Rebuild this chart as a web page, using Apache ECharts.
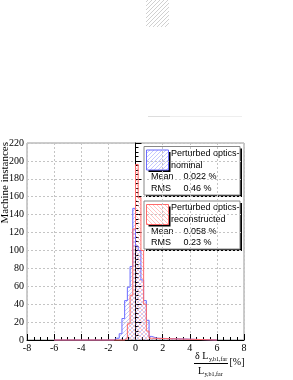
<!DOCTYPE html>
<html><head><meta charset="utf-8">
<script src="https://cdn.jsdelivr.net/npm/echarts@6/dist/echarts.min.js"></script>
<style>html,body{margin:0;padding:0;background:#fff}#c{width:293px;height:380px}</style>
</head><body><div id="c"></div>
<script>
// ---- data ----
const binWidth = 0.2;
const histRange = [-6, 6];
const blueStart = -1.6;
const blueCounts = [2, 2, 7, 24, 44, 59, 82, 147, 105, 100, 67, 44, 22, 4, 3, 2];
const redStart = -0.8;
const redCounts = [2, 18, 50, 124, 196, 159, 100, 40, 10, 2];
const xMin = -8, xMax = 8, xStep = 2;
const yMin = 0, yMax = 220, yStep = 20;
const yTitle = 'Machine instances';
const legend1 = ['Perturbed optics-', 'nominal', 'Mean', '0.022 %', 'RMS', '0.46 %'];
const legend2 = ['Perturbed optics-', 'reconstructed', 'Mean', '0.058 %', 'RMS', '0.23 %'];
const blueLine = '#6b6bff', redLine = '#ff6b6b';

function histPoints(start, counts) {
  const pts = [[histRange[0], 0]];
  counts.forEach((c, i) => pts.push([+(start + i * binWidth).toFixed(4), c]));
  pts.push([+(start + counts.length * binWidth).toFixed(4), 0]);
  pts.push([histRange[1], 0]);
  return pts;
}
function hatch(color, dir, size) {
  const s = size || 4;
  const c = document.createElement('canvas');
  c.width = s; c.height = s;
  const g = c.getContext('2d');
  g.fillStyle = color;
  for (let i = 0; i < s; i++) g.fillRect(i, dir > 0 ? s - 1 - i : i, 1, 1);
  return c;
}
const bluePat = { image: hatch('rgba(100,110,255,0.38)', 1), repeat: 'repeat' };
const redPat = { image: hatch('rgba(255,100,100,0.38)', -1), repeat: 'repeat' };
const greyPat = { image: hatch('rgba(150,150,150,0.45)', 1), repeat: 'repeat' };

const serif = 'Liberation Serif';
const sans = 'Liberation Sans';

function legendBox(y0, h, pat, stroke, t) {
  const x0 = 144, w = 96;
  const txt = (x, y, s) => ({ type: 'text', x: x, y: y, style: { text: s, font: '9px ' + sans, fill: '#000', verticalAlign: 'middle' } });
  return [
    { type: 'rect', shape: { x: x0 + 2, y: y0 + 2, width: w, height: h }, style: { fill: '#000' } },
    { type: 'rect', shape: { x: x0, y: y0, width: w, height: h }, style: { fill: '#fff', stroke: '#888', lineWidth: 1 } },
    { type: 'rect', shape: { x: 148.5, y: y0 + 5.5, width: 22, height: 20 }, style: { fill: '#000' } },
    { type: 'rect', shape: { x: 146.5, y: y0 + 3.5, width: 22, height: 20 }, style: { fill: '#fff' } },
    { type: 'rect', shape: { x: 146.5, y: y0 + 3.5, width: 22, height: 20 }, style: { fill: pat, stroke: stroke, lineWidth: 1 } },
    txt(171, y0 + 7, t[0]), txt(171, y0 + 19, t[1]),
    txt(151, y0 + 30.5, t[2]), txt(183.5, y0 + 30.5, t[3]),
    txt(151, y0 + 42, t[4]), txt(183.5, y0 + 42, t[5])
  ];
}

const chart = echarts.init(document.getElementById('c'), null, { renderer: 'canvas' });
const axisCommon = {
  type: 'value',
  axisLine: { show: true, lineStyle: { color: '#000', width: 1 } },
  axisTick: { show: true, inside: true, length: 6, lineStyle: { color: '#000' } },
  minorTick: { show: true, splitNumber: 4, length: 3, lineStyle: { color: '#000' } },
  splitLine: { show: true, lineStyle: { color: '#c4c4c4', type: [2, 2], width: 1 } },
  axisLabel: { fontFamily: serif, fontSize: 10, color: '#000' }
};
chart.setOption({
  animation: false,
  backgroundColor: '#fff',
  grid: { left: 27, right: 49, top: 143, bottom: 40, show: true, borderColor: '#999', borderWidth: 1, backgroundColor: 'transparent' },
  xAxis: Object.assign({}, axisCommon, { min: xMin, max: xMax, interval: xStep,
    axisLabel: Object.assign({}, axisCommon.axisLabel, { margin: 3 }) }),
  yAxis: Object.assign({}, axisCommon, { min: yMin, max: yMax, interval: yStep,
    axisLabel: Object.assign({}, axisCommon.axisLabel, { margin: 3 }) }),
  series: [
    { type: 'line', step: 'end', data: histPoints(blueStart, blueCounts), symbol: 'none', clip: false,
      lineStyle: { color: blueLine, width: 1 }, areaStyle: { color: bluePat, opacity: 1 }, z: 3 },
    { type: 'line', step: 'end', data: histPoints(redStart, redCounts), symbol: 'none', clip: false,
      lineStyle: { color: redLine, width: 1 }, areaStyle: { color: redPat, opacity: 1 }, z: 4 }
  ],
  graphic: [
    // faint ghost artifacts at the top of the picture
    { type: 'rect', shape: { x: 146, y: 0, width: 23, height: 27 }, style: { fill: greyPat } },
    { type: 'line', shape: { x1: 148, y1: 116.5, x2: 242, y2: 116.5 }, style: { stroke: '#eee', lineWidth: 1 } },
    { type: 'line', shape: { x1: 148, y1: 116.5, x2: 170, y2: 116.5 }, style: { stroke: '#ddd', lineWidth: 1 } },
    // y axis title
    { type: 'text', x: 5.5, y: 142, rotation: Math.PI / 2,
      style: { text: yTitle, font: '11px ' + serif, fill: '#000', align: 'right', verticalAlign: 'middle' } },
    // x axis title (fraction)
    { type: 'text', x: 195, y: 356, style: { text: 'δ L', font: '10px ' + serif, fill: '#000', verticalAlign: 'middle' } },
    { type: 'text', x: 209, y: 359, style: { text: 'y,b1,far', font: '6px ' + serif, fill: '#000', verticalAlign: 'middle' } },
    { type: 'line', shape: { x1: 194, y1: 363.5, x2: 228, y2: 363.5 }, style: { stroke: '#000', lineWidth: 1 } },
    { type: 'text', x: 198, y: 371, style: { text: 'L', font: '10px ' + serif, fill: '#000', verticalAlign: 'middle' } },
    { type: 'text', x: 204.5, y: 374.5, style: { text: 'y,b1,far', font: '6px ' + serif, fill: '#000', verticalAlign: 'middle' } },
    { type: 'text', x: 229.5, y: 362.5, style: { text: '[%]', font: '10px ' + serif, fill: '#000', verticalAlign: 'middle' } }
  ].concat(legendBox(146.5, 48.5, bluePat, blueLine, legend1))
   .concat(legendBox(201, 48, redPat, redLine, legend2))
});
</script></body></html>
